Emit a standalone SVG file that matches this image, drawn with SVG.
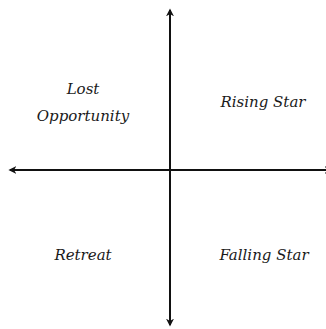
<svg xmlns="http://www.w3.org/2000/svg" width="326" height="329" viewBox="0 0 326 329">
<style>
.ax{stroke:#111;stroke-width:2;fill:none}
.lbl{font-family:'DejaVu Serif',serif;font-style:italic;font-size:15px;fill:#1a1a1a;text-anchor:middle}
</style>
<defs>
<marker id="ah" viewBox="0 0 10 10" refX="8" refY="5" markerWidth="4" markerHeight="4" orient="auto-start-reverse" markerUnits="strokeWidth">
<path d="M0,0 L10,5 L0,10 L3,5 Z" fill="#111"/>
</marker>
</defs>
<g id="connectors">
<line class="ax" x1="170" y1="325" x2="170" y2="10" marker-start="url(#ah)" marker-end="url(#ah)"/>
<line class="ax" x1="10" y1="170" x2="331" y2="170" marker-start="url(#ah)" marker-end="url(#ah)"/>
</g>
<g id="lost-opportunity">
<text class="lbl" x="83" y="94">Lost</text>
<text class="lbl" x="83" y="121">Opportunity</text>
</g>
<g id="rising-star"><text class="lbl" x="263" y="107">Rising Star</text></g>
<g id="retreat"><text class="lbl" x="83" y="260">Retreat</text></g>
<g id="falling-star"><text class="lbl" x="264" y="260">Falling Star</text></g>
</svg>
